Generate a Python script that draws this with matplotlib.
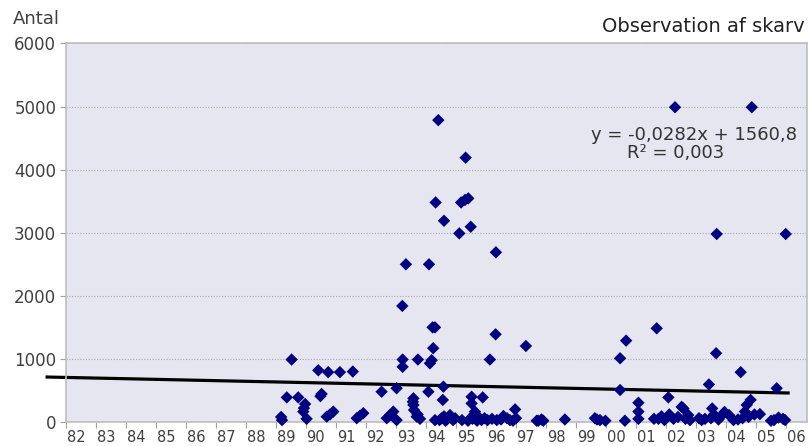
import numpy as np
import matplotlib
matplotlib.use("Agg")
import matplotlib.pyplot as plt

years = [
    1989.17, 1989.20, 1989.52, 1989.36, 1989.74, 1989.97, 1989.91, 1989.93, 1990.02,
    1990.41, 1990.74, 1990.52, 1990.48, 1990.69, 1990.80, 1990.91,
    1991.13, 1991.56, 1991.69, 1991.80, 1991.91,
    1992.52, 1992.69, 1992.80, 1992.91,
    1993.02, 1993.21, 1993.22, 1993.22, 1993.33, 1993.58, 1993.58, 1993.60, 1993.56,
    1993.69, 1993.80, 1993.72, 1993.73, 1993.02,
    1994.10, 1994.13, 1994.19, 1994.08, 1994.24, 1994.22, 1994.30, 1994.32, 1994.41,
    1994.60, 1994.58, 1994.56, 1994.52, 1994.60, 1994.70, 1994.80, 1994.97, 1994.90, 1994.45,
    1994.30, 1994.65,
    1995.11, 1995.17, 1995.30, 1995.41, 1995.32, 1995.49, 1995.52, 1995.89, 1995.52,
    1995.63, 1995.74, 1995.55, 1995.60, 1995.85, 1995.95, 1995.20, 1995.40, 1995.70,
    1996.13, 1996.33, 1996.32, 1996.36, 1996.58, 1996.50, 1996.80, 1996.97, 1996.70, 1996.20,
    1996.05, 1996.90,
    1997.33, 1997.69, 1997.74, 1997.91, 1997.85, 1997.00,
    1998.63,
    1999.63, 1999.80, 1999.98, 1999.70,
    2000.47, 2000.47, 2000.67, 2000.63,
    2001.08, 2001.08, 2001.08, 2001.69, 2001.60, 2001.75, 2001.85, 2001.95,
    2002.30, 2002.08, 2002.52, 2002.11, 2002.25, 2002.58, 2002.74, 2002.65, 2002.40, 2002.80,
    2003.19, 2003.43, 2003.67, 2003.69, 2003.54, 2003.50, 2003.60, 2003.75, 2003.85, 2003.95,
    2003.30, 2003.10,
    2004.49, 2004.86, 2004.82, 2004.69, 2004.63, 2004.10, 2004.25, 2004.55, 2004.75, 2004.95,
    2004.40,
    2005.13, 2005.69, 2005.60, 2005.75, 2005.90, 2005.99, 2005.97, 2005.50,
]
antal = [
    80, 30, 990, 390, 390, 285, 165, 220, 50,
    820, 790, 445, 410, 85, 120, 165,
    790, 800, 60, 100, 140,
    480, 60, 110, 165,
    535, 1840, 990, 875, 2500, 375, 270, 190, 320,
    85, 50, 120, 990, 30,
    2500, 930, 980, 480, 1170, 1500, 1500, 3480, 4785,
    3190, 560, 350, 60, 90, 40, 110, 60, 30, 30,
    30, 20,
    2990, 3480, 3520, 3545, 4190, 3095, 400, 390, 295,
    165, 85, 50, 120, 30, 60, 30, 20, 20,
    990, 2690, 1390, 30, 95, 40, 30, 200, 60, 50,
    30, 20,
    1205, 20, 20, 20, 40, 60,
    40,
    60, 30, 20, 40,
    1010, 507, 1290, 20,
    305, 165, 50, 1485, 50, 50, 90, 30,
    4990, 390, 240, 120, 50, 215, 110, 50, 80, 30,
    30, 595, 1090, 2980, 215, 60, 120, 40, 100, 160,
    50, 60,
    790, 4990, 350, 270, 165, 110, 30, 60, 80, 120,
    40,
    125, 535, 30, 70, 50, 2980, 30, 20,
]

# trend line ends as drawn (extends a bit left of the axis)
trend_x = [1981.37, 2006.07]
trend_y = [713, 460]
trend_eq = "y = -0,0282x + 1560,8"
trend_r2 = "R\u00b2 = 0,003"

tick_years = list(range(1982, 2007))
tick_labels = ["%02d" % (y % 100) for y in tick_years]
y_ticks = [0, 1000, 2000, 3000, 4000, 5000, 6000]

fig = plt.figure(figsize=(8.1, 4.46), dpi=100)
ax = fig.add_axes([0.0815, 0.0538, 0.9148, 0.8487])
ax.set_facecolor("#E6E6F0")

ax.plot(trend_x, trend_y, color="black", lw=2.3, zorder=2, clip_on=False)
ax.scatter(years, antal, marker="D", s=40, color="#000080", edgecolors="none",
           zorder=3, clip_on=False)

ax.set_xlim(1982, 2006.7)
ax.set_ylim(0, 6000)

# tick marks at year starts, labels slightly to the right
ax.set_xticks(tick_years)
ax.set_xticklabels([])
ax.set_xticks([y + 0.33 for y in tick_years], minor=True)
ax.set_xticklabels(tick_labels, minor=True, fontsize=10.5, color="#404040")
ax.tick_params(axis="x", which="major", length=4, color="#A0A0A0", direction="out")
ax.tick_params(axis="x", which="minor", length=0, pad=6)

ax.set_yticks(y_ticks)
ax.set_yticklabels([str(v) for v in y_ticks], fontsize=12, color="#404040")
ax.tick_params(axis="y", length=4, color="#A0A0A0", direction="out", pad=3)

ax.grid(axis="y", linestyle=(0, (1, 1.5)), color="#A8A8A8", lw=0.8)
ax.set_axisbelow(True)
for sp in ax.spines.values():
    sp.set_color("#BDBDBD")
    sp.set_linewidth(1.2)

ax.text(0.8475, 0.758, trend_eq, transform=ax.transAxes, ha="center", va="center",
        fontsize=13, color="#333333", zorder=4)
ax.text(0.823, 0.711, trend_r2, transform=ax.transAxes, ha="center", va="center",
        fontsize=13, color="#333333", zorder=4)

fig.text(13 / 810, 1 - 19 / 446, "Antal", ha="left", va="center", fontsize=13, color="#404040")
fig.text(805 / 810, 1 - 27 / 446, "Observation af skarv", ha="right", va="center",
         fontsize=14, color="#222222")

fig.savefig("out.png", dpi=100)
